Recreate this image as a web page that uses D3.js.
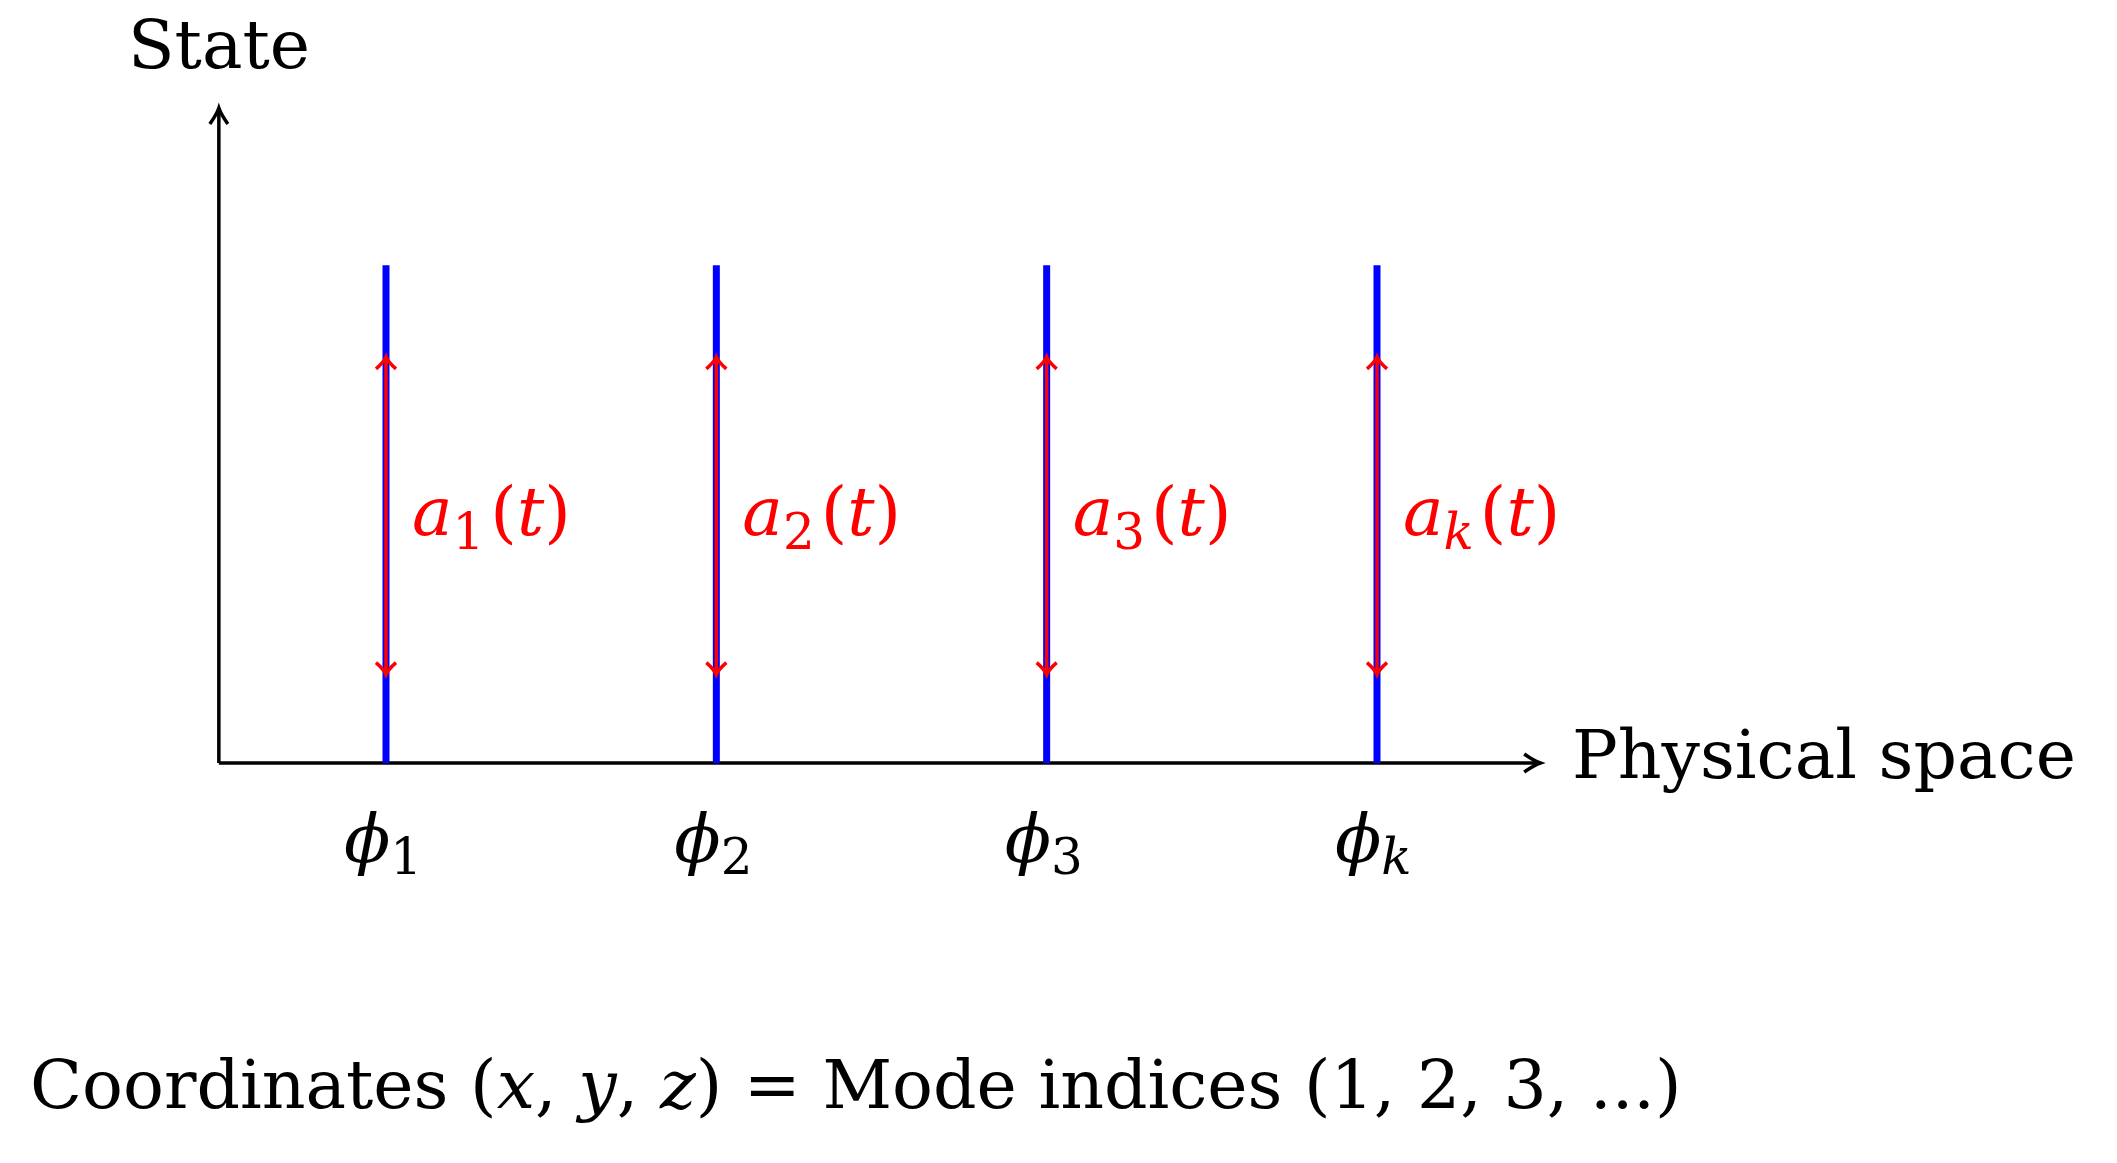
<!DOCTYPE html>
<html><head><meta charset="utf-8">
<script src="https://d3js.org/d3.v7.min.js"></script>
<style>body{margin:0;background:#fff}</style>
</head><body>
<script>
// modes along physical space
const modeIdx = [0, 1, 2, 3];
const modeSub = ["1", "2", "3", "k"];
const modeHeight = [0.76, 0.76, 0.76, 0.76];   // blue bar height
const ampLow = [0.135, 0.135, 0.135, 0.135];   // red arrow bottom
const ampHigh = [0.62, 0.62, 0.62, 0.62];      // red arrow top

const width = 2117, height = 1163;
const svg = d3.select('body').append('svg').attr('width', width).attr('height', height);

const x = d3.scaleLinear().domain([0, 3]).range([386, 1377]);
const y = d3.scaleLinear().domain([0, 1]).range([763, 108]);
const x0 = x(-0.506), x1 = x(3.494);

const font = '"DejaVu Serif", "Liberation Serif", serif';
const fs = 68;

// axes
svg.append('line').attr('x1', x0).attr('y1', y(0)).attr('x2', x0).attr('y2', y(1))
  .attr('stroke', 'black').attr('stroke-width', 3.5);
svg.append('line').attr('x1', x0).attr('y1', y(0)).attr('x2', x1).attr('y2', y(0))
  .attr('stroke', 'black').attr('stroke-width', 3.5);
svg.append('path').attr('d', `M${x0-9},${y(1)+16} Q${x0-2},${y(1)+6} ${x0},${y(1)} Q${x0+2},${y(1)+6} ${x0+9},${y(1)+16}`)
  .attr('fill', 'none').attr('stroke', 'black').attr('stroke-width', 3.5);
svg.append('path').attr('d', `M${x1-16},${y(0)-9} Q${x1-6},${y(0)-2} ${x1},${y(0)} Q${x1-6},${y(0)+2} ${x1-16},${y(0)+9}`)
  .attr('fill', 'none').attr('stroke', 'black').attr('stroke-width', 3.5);

svg.append('text').attr('x', 128).attr('y', 68).attr('font-family', font).attr('font-size', fs).text('State');
svg.append('text').attr('x', 1572).attr('y', 778).attr('font-family', font).attr('font-size', fs).text('Physical space');

// blue modes
svg.selectAll('line.mode').data(modeIdx).enter().append('line')
  .attr('x1', d => x(d)).attr('x2', d => x(d))
  .attr('y1', y(0)).attr('y2', (d, i) => y(modeHeight[i]))
  .attr('stroke', '#0000ff').attr('stroke-width', 7);

// red amplitude arrows
const arrows = svg.selectAll('g.amp').data(modeIdx).enter().append('g')
  .attr('stroke', '#ff0000').attr('stroke-width', 3.5).attr('fill', 'none');
arrows.append('line').attr('x1', d => x(d)).attr('x2', d => x(d))
  .attr('y1', (d, i) => y(ampLow[i])).attr('y2', (d, i) => y(ampHigh[i]));
arrows.append('path').attr('d', (d, i) => {
  const cx = x(d), t = y(ampHigh[i]);
  return `M${cx-10},${t+12} Q${cx-2},${t+5} ${cx},${t} Q${cx+2},${t+5} ${cx+10},${t+12}`;
});
arrows.append('path').attr('d', (d, i) => {
  const cx = x(d), b = y(ampLow[i]);
  return `M${cx-10},${b-12} Q${cx-2},${b-5} ${cx},${b} Q${cx+2},${b-5} ${cx+10},${b-12}`;
});

// amplitude labels
const al = svg.selectAll('text.amp').data(modeIdx).enter().append('text')
  .attr('x', d => x(d) + 26).attr('y', 535)
  .attr('font-family', font).attr('font-size', fs).attr('fill', '#ff0000');
al.append('tspan').attr('font-style', 'italic').text('a');
al.append('tspan').attr('font-size', 50).attr('dy', 14).attr('font-style', (d, i) => modeSub[i] === 'k' ? 'italic' : 'normal').text((d, i) => modeSub[i]);
al.append('tspan').attr('dy', -14).attr('dx', 6).text('(');
al.append('tspan').attr('font-style', 'italic').text('t');
al.append('tspan').text(')');

// phi labels
const pl = svg.selectAll('text.phi').data(modeIdx).enter().append('text')
  .attr('x', d => x(d) - 42).attr('y', 862)
  .attr('font-family', font).attr('font-size', fs);
pl.append('tspan').attr('font-style', 'italic').text('ϕ');
pl.append('tspan').attr('font-size', 50).attr('dy', 12).attr('font-style', (d, i) => modeSub[i] === 'k' ? 'italic' : 'normal').text((d, i) => modeSub[i]);

// caption
const cap = svg.append('text').attr('x', 30).attr('y', 1108).attr('font-family', font).attr('font-size', fs);
cap.append('tspan').text('Coordinates (');
cap.append('tspan').attr('font-style', 'italic').text('x');
cap.append('tspan').text(', ');
cap.append('tspan').attr('font-style', 'italic').text('y');
cap.append('tspan').text(', ');
cap.append('tspan').attr('font-style', 'italic').text('z');
cap.append('tspan').text(') = Mode indices (1, 2, 3, ...)');
</script>
</body></html>
